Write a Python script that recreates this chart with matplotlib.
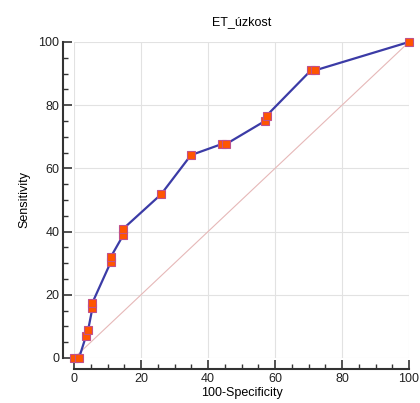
import matplotlib
matplotlib.use("Agg")
import matplotlib.pyplot as plt
from matplotlib.ticker import MultipleLocator

plt.rcParams['font.family'] = ['Liberation Sans', 'DejaVu Sans']

# ROC points
fpr = [0, 1.5, 3.6, 4.2, 5.5, 5.5, 11, 11, 14.7, 14.7, 26, 34.9, 44.1, 45.4, 57.0, 57.5, 70.7, 71.9, 100]
sens = [0, 0, 7.0, 8.8, 15.8, 17.5, 30.4, 32.0, 38.9, 40.9, 51.8, 64.2, 67.7, 67.7, 75.0, 76.7, 91.0, 91.0, 100]

fig = plt.figure(figsize=(4.2, 4.03), dpi=100)
ax = fig.add_axes([74 / 420, 1 - 358 / 403, 335 / 420, 316 / 403])

# reference diagonal
ax.plot([0, 100], [0, 100], color="#e6b8b8", lw=0.8, zorder=1)
ax.plot(fpr, sens, color="#3b3ba6", lw=1.6, marker="s", markersize=6,
        markerfacecolor="#ff5500", markeredgecolor="#c0508a", markeredgewidth=0.8,
        clip_on=False, zorder=3)

ax.set_xlim(0, 100)
ax.set_ylim(0, 100)
ax.xaxis.set_major_locator(MultipleLocator(20))
ax.yaxis.set_major_locator(MultipleLocator(20))
ax.xaxis.set_minor_locator(MultipleLocator(5))
ax.yaxis.set_minor_locator(MultipleLocator(5))
ax.grid(True, which="major", color="#e2e2e2", lw=0.8)
ax.set_axisbelow(True)

for s in ["top", "right"]:
    ax.spines[s].set_visible(False)
for s in ["left", "bottom"]:
    ax.spines[s].set_position(("outward", 8))
    ax.spines[s].set_linewidth(1.5)
    ax.spines[s].set_color("#333333")

ax.tick_params(which="major", direction="in", length=6.5, width=1.2, color="#333333",
               labelsize=9, labelcolor="#222222", pad=2.5)
ax.tick_params(which="minor", direction="in", length=3.5, width=1.0, color="#333333")

ax.set_title("ET_úzkost", fontsize=9, pad=12)
ax.set_xlabel("100-Specificity", fontsize=9, labelpad=2)
ax.set_ylabel("Sensitivity", fontsize=9, labelpad=6)

plt.savefig("out.png", dpi=100)
